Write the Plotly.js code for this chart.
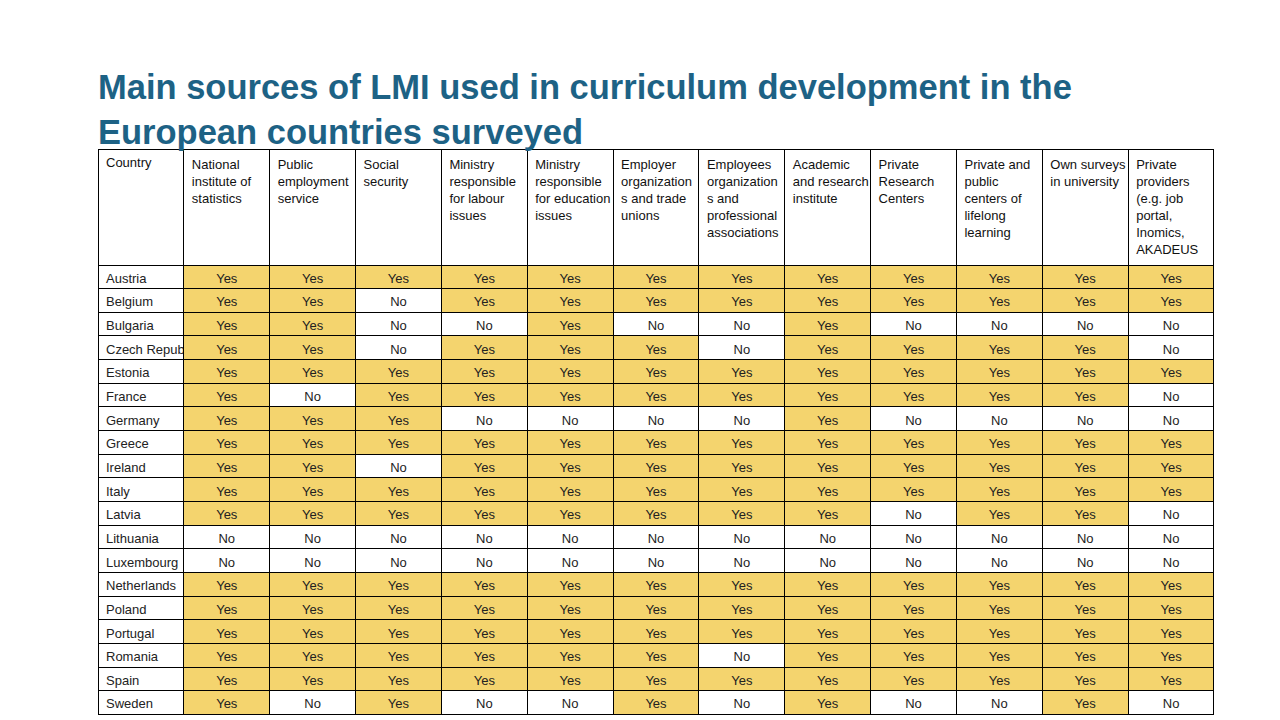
<!DOCTYPE html>
<html>
<head>
<meta charset="utf-8">
<script src="https://cdn.plot.ly/plotly-3.0.1.min.js"></script>
<style>html,body{margin:0;padding:0;background:#fff;}#chart{width:1280px;height:720px;}</style>
</head>
<body>
<div id="chart"></div>
<script>
const headers = [
  "Country",
  "National<br>institute of<br>statistics",
  "Public<br>employment<br>service",
  "Social<br>security",
  "Ministry<br>responsible<br>for labour<br>issues",
  "Ministry<br>responsible<br>for education<br>issues",
  "Employer<br>organization<br>s and trade<br>unions",
  "Employees<br>organization<br>s and<br>professional<br>associations",
  "Academic<br>and research<br>institute",
  "Private<br>Research<br>Centers",
  "Private and<br>public<br>centers of<br>lifelong<br>learning",
  "Own surveys<br>in university",
  "Private<br>providers<br>(e.g. job<br>portal,<br>Inomics,<br>AKADEUS"
];
const countries = ["Austria","Belgium","Bulgaria","Czech\u00a0Republic","Estonia","France","Germany","Greece","Ireland","Italy","Latvia","Lithuania","Luxembourg","Netherlands","Poland","Portugal","Romania","Spain","Sweden"];
// one array per country, in header order (columns 2..13)
const austria     = ["Yes","Yes","Yes","Yes","Yes","Yes","Yes","Yes","Yes","Yes","Yes","Yes"];
const belgium     = ["Yes","Yes","No","Yes","Yes","Yes","Yes","Yes","Yes","Yes","Yes","Yes"];
const bulgaria    = ["Yes","Yes","No","No","Yes","No","No","Yes","No","No","No","No"];
const czech       = ["Yes","Yes","No","Yes","Yes","Yes","No","Yes","Yes","Yes","Yes","No"];
const estonia     = ["Yes","Yes","Yes","Yes","Yes","Yes","Yes","Yes","Yes","Yes","Yes","Yes"];
const france      = ["Yes","No","Yes","Yes","Yes","Yes","Yes","Yes","Yes","Yes","Yes","No"];
const germany     = ["Yes","Yes","Yes","No","No","No","No","Yes","No","No","No","No"];
const greece      = ["Yes","Yes","Yes","Yes","Yes","Yes","Yes","Yes","Yes","Yes","Yes","Yes"];
const ireland     = ["Yes","Yes","No","Yes","Yes","Yes","Yes","Yes","Yes","Yes","Yes","Yes"];
const italy       = ["Yes","Yes","Yes","Yes","Yes","Yes","Yes","Yes","Yes","Yes","Yes","Yes"];
const latvia      = ["Yes","Yes","Yes","Yes","Yes","Yes","Yes","Yes","No","Yes","Yes","No"];
const lithuania   = ["No","No","No","No","No","No","No","No","No","No","No","No"];
const luxembourg  = ["No","No","No","No","No","No","No","No","No","No","No","No"];
const netherlands = ["Yes","Yes","Yes","Yes","Yes","Yes","Yes","Yes","Yes","Yes","Yes","Yes"];
const poland      = ["Yes","Yes","Yes","Yes","Yes","Yes","Yes","Yes","Yes","Yes","Yes","Yes"];
const portugal    = ["Yes","Yes","Yes","Yes","Yes","Yes","Yes","Yes","Yes","Yes","Yes","Yes"];
const romania     = ["Yes","Yes","Yes","Yes","Yes","Yes","No","Yes","Yes","Yes","Yes","Yes"];
const spain       = ["Yes","Yes","Yes","Yes","Yes","Yes","Yes","Yes","Yes","Yes","Yes","Yes"];
const sweden      = ["Yes","No","Yes","No","No","Yes","No","Yes","No","No","Yes","No"];

const rows = [austria,belgium,bulgaria,czech,estonia,france,germany,greece,ireland,italy,latvia,lithuania,luxembourg,netherlands,poland,portugal,romania,spain,sweden];

const YES_FILL = "#F4D46E";
const NO_FILL = "#FFFFFF";

const nCols = headers.length - 1;
const columns = [countries];
const fills = [countries.map(() => NO_FILL)];
for (let c = 0; c < nCols; c++) {
  const col = rows.map(r => r[c]);
  columns.push(col);
  fills.push(col.map(v => v === "Yes" ? YES_FILL : NO_FILL));
}
const aligns = ["left"].concat(Array(nCols).fill("center"));

const W = 1280, H = 720;
const trace = {
  type: "table",
  domain: {x: [98 / W, 1214 / W], y: [1 - 716 / H, 1 - 149 / H]},
  columnwidth: headers.map(() => 1),
  header: {
    values: headers,
    align: "left",
    height: 116,
    line: {color: "#000000", width: 1},
    fill: {color: "#FFFFFF"},
    font: {family: "Liberation Sans, Arial, sans-serif", size: 13, color: "#111111"}
  },
  cells: {
    values: columns,
    align: aligns,
    height: 23.65,
    line: {color: "#000000", width: 1},
    fill: {color: fills},
    font: {family: "Liberation Sans, Arial, sans-serif", size: 13, color: "#222222"}
  }
};

const layout = {
  width: W, height: H,
  margin: {l: 0, r: 0, t: 0, b: 0},
  paper_bgcolor: "#FFFFFF",
  title: {
    text: "Main sources of LMI used in curriculum development in the<br>European countries surveyed",
    x: 98 / W, xanchor: "left", xref: "paper",
    y: 1 - 99 / H, yanchor: "top", yref: "container",
    font: {family: "Liberation Sans, Arial, sans-serif", size: 34.5, weight: "bold", color: "#1D6285"}
  }
};

Plotly.newPlot("chart", [trace], layout, {displayModeBar: false, staticPlot: true});
</script>
</body>
</html>
